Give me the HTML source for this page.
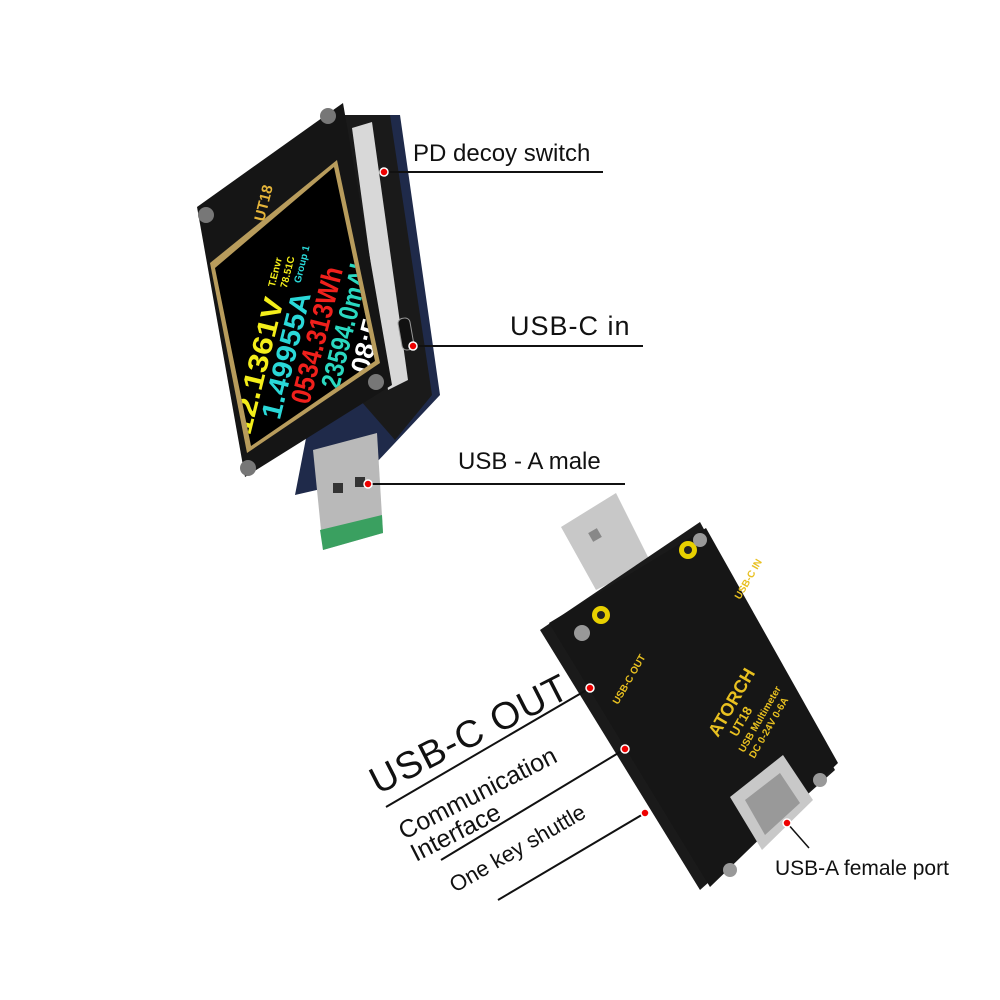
<!DOCTYPE html>
<html><head><meta charset="utf-8"><style>
html,body{margin:0;padding:0;background:#fff;}
svg{display:block;font-family:"Liberation Sans",sans-serif;}
</style></head><body>
<svg width="1000" height="1000" viewBox="0 0 1000 1000" xmlns="http://www.w3.org/2000/svg">
<defs><clipPath id="scr"><polygon points="215,268 334,167 375,361 251,446"/></clipPath></defs>
<!-- TOP DEVICE -->
<polygon points="295,495 360,480 440,395 400,115 355,115 360,160" fill="#1f2a4a"/>
<polygon points="340,115 390,115 432,395 395,440 360,400" fill="#1a1a1a"/>
<polygon points="352,128 372,122 408,380 388,390" fill="#d8d8d8"/>
<polygon points="197,207 343,103 392,385 245,477" fill="#151515"/>
<polygon points="210,263 337,160 380,363 247,453" fill="#b89c5c"/>
<polygon points="215,268 334,167 375,361 251,446" fill="#000"/>
<g clip-path="url(#scr)">
<g transform="translate(250,436) rotate(-76)" font-weight="bold">
<text x="0" y="0" font-size="28" fill="#f4ee1a" textLength="140" lengthAdjust="spacingAndGlyphs">12.1361V</text>
<text x="22" y="25" font-size="28" fill="#2ad8d8" textLength="130" lengthAdjust="spacingAndGlyphs">1.49955A</text>
<text x="44" y="50" font-size="28" fill="#f0201c" textLength="140" lengthAdjust="spacingAndGlyphs">0534.313Wh</text>
<text x="66" y="75" font-size="27" fill="#2ad8c0" textLength="135" lengthAdjust="spacingAndGlyphs">23594.0mAh</text>
<text x="88" y="100" font-size="27" fill="#fff" textLength="110" lengthAdjust="spacingAndGlyphs">08:58:34</text>
<text x="150" y="-12" font-size="10" fill="#f4ee1a">T.Envr</text>
<text x="152" y="0" font-size="10" fill="#f4ee1a">78.51C</text>
<text x="160" y="12" font-size="10" fill="#2ad8d8">Group 1</text>
</g></g>
<text transform="translate(264,222) rotate(-76)" font-size="15" font-weight="bold" fill="#e6b53a">UT18</text>
<circle cx="206" cy="215" r="8" fill="#777"/><circle cx="328" cy="116" r="8" fill="#777"/>
<circle cx="376" cy="382" r="8" fill="#777"/><circle cx="248" cy="468" r="8" fill="#777"/>
<rect x="400" y="318" width="12" height="32" rx="5" fill="#111" stroke="#999" transform="rotate(-10 406 334)"/>
<!-- USB-A male -->
<polygon points="313,450 377,433 383,533 323,550" fill="#b9b9b9"/>
<polygon points="320,530 382,515 383,533 323,550" fill="#3aa060"/>
<rect x="333" y="483" width="10" height="10" fill="#333"/><rect x="355" y="477" width="10" height="10" fill="#333"/>
<!-- top labels -->
<text x="413" y="161" font-size="24" fill="#111">PD decoy switch</text>
<line x1="384" y1="172" x2="603" y2="172" stroke="#111" stroke-width="2"/>
<circle cx="384" cy="172" r="4" fill="#e00" stroke="#fff" stroke-width="1.5"/>
<text x="510" y="335" font-size="27" fill="#111" letter-spacing="1">USB-C in</text>
<line x1="413" y1="346" x2="643" y2="346" stroke="#111" stroke-width="2"/>
<circle cx="413" cy="346" r="4" fill="#e00" stroke="#fff" stroke-width="1.5"/>
<text x="458" y="469" font-size="24" fill="#111">USB - A male</text>
<line x1="368" y1="484" x2="625" y2="484" stroke="#111" stroke-width="2"/>
<circle cx="368" cy="484" r="4" fill="#e00" stroke="#fff" stroke-width="1.5"/>
<!-- BOTTOM DEVICE -->
<polygon points="561,527 616,493 651,563 596,590" fill="#c8c8c8"/>
<rect x="590" y="530" width="10" height="10" fill="#888" transform="rotate(-30 595 535)"/>
<polygon points="540,630 700,522 835,770 700,890" fill="#1a1a1a"/>
<polygon points="549,623 706,528 838,763 710,887" fill="#161616"/>
<circle cx="688" cy="550" r="9" fill="#e8d000"/><circle cx="688" cy="550" r="4" fill="#222"/>
<circle cx="601" cy="615" r="9" fill="#e8d000"/><circle cx="601" cy="615" r="4" fill="#222"/>
<circle cx="582" cy="633" r="8" fill="#999"/><circle cx="700" cy="540" r="7" fill="#999"/>
<circle cx="820" cy="780" r="7" fill="#999"/><circle cx="730" cy="870" r="7" fill="#999"/>
<g transform="translate(718,738) rotate(-60)" font-weight="bold" fill="#e8c020">
<text x="0" y="0" font-size="18">ATORCH</text>
<text x="10" y="16" font-size="13">UT18</text>
<text x="0" y="30" font-size="10">USB Multimeter</text>
<text x="0" y="42" font-size="10">DC 0-24V 0-6A</text>
</g>
<text transform="translate(740,600) rotate(-60)" font-size="10" font-weight="bold" fill="#e8c020">USB-C IN</text>
<text transform="translate(618,705) rotate(-60)" font-size="10" font-weight="bold" fill="#e8c020">USB-C OUT</text>
<polygon points="730,797 783,755 813,800 762,850" fill="#c8c8c8"/>
<polygon points="745,800 780,773 800,803 765,835" fill="#999"/>
<!-- bottom labels -->
<text transform="translate(378,795) rotate(-27)" font-size="38" fill="#111" letter-spacing="1">USB-C OUT</text>
<line x1="590" y1="688" x2="386" y2="807" stroke="#111" stroke-width="2"/>
<circle cx="590" cy="688" r="4" fill="#e00" stroke="#fff" stroke-width="1.5"/>
<text transform="translate(404,840) rotate(-27)" font-size="25" fill="#111">Communication</text>
<text transform="translate(416,862) rotate(-27)" font-size="25" fill="#111">Interface</text>
<line x1="625" y1="749" x2="441" y2="860" stroke="#111" stroke-width="2"/>
<circle cx="625" cy="749" r="4" fill="#e00" stroke="#fff" stroke-width="1.5"/>
<text transform="translate(455,893) rotate(-30)" font-size="22" fill="#111">One key shuttle</text>
<line x1="645" y1="813" x2="498" y2="900" stroke="#111" stroke-width="2"/>
<circle cx="645" cy="813" r="4" fill="#e00" stroke="#fff" stroke-width="1.5"/>
<line x1="787" y1="823" x2="809" y2="848" stroke="#111" stroke-width="1.5"/>
<circle cx="787" cy="823" r="4" fill="#e00" stroke="#fff" stroke-width="1.5"/>
<text x="775" y="875" font-size="21" fill="#111">USB-A female port</text>
</svg>
</body></html>
